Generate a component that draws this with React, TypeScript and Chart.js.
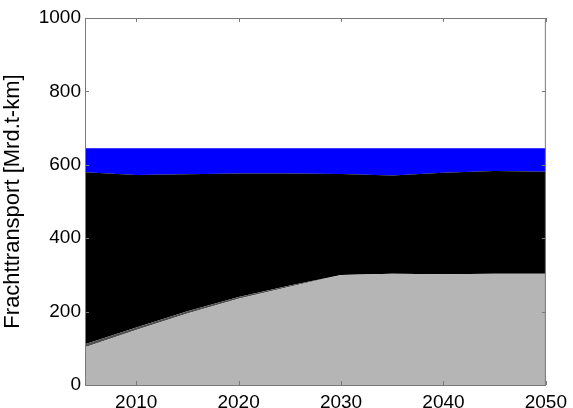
import React, { useEffect, useRef } from "react";
import { Chart, registerables } from "chart.js";

Chart.register(...registerables);

// Years of the scenario (5-year steps)
const years = [2005, 2010, 2015, 2020, 2025, 2030, 2035, 2040, 2045, 2050];
// Layer thicknesses in Mrd. t-km, stacked bottom to top
const railFreight = [103, 150, 195, 235, 268, 300, 303, 302, 303, 303];
const inlandWaterway = [8, 7, 6, 5, 3, 0, 0, 0, 0, 0];
const roadFreight = [469, 415, 373, 336, 305, 275, 268, 276, 280, 278];
const airFreight = [65, 73, 71, 69, 69, 70, 74, 67, 62, 64];
const yTicks = [0, 200, 400, 600, 800, 1000];
const xTicks = [2010, 2020, 2030, 2040, 2050];

const FONT = "'Liberation Sans', Arial, sans-serif";

const frame = {
  id: "frame",
  afterDatasetsDraw(chart: any) {
    const { ctx, chartArea: a, scales } = chart;
    ctx.save();
    ctx.strokeStyle = "#7a7a7a";
    ctx.lineWidth = 1;
    ctx.strokeRect(a.left + 0.5, a.top + 0.5, a.right - a.left - 1, a.bottom - a.top);
    ctx.beginPath();
    for (const v of xTicks) {
      const x = Math.round(scales.x.getPixelForValue(v)) + 0.5;
      ctx.moveTo(x, a.top);
      ctx.lineTo(x, a.top + 4);
      ctx.moveTo(x, a.bottom);
      ctx.lineTo(x, a.bottom - 4);
    }
    for (const v of yTicks) {
      const y = Math.round(scales.y.getPixelForValue(v)) + 0.5;
      ctx.moveTo(a.left, y);
      ctx.lineTo(a.left + 4, y);
      ctx.moveTo(a.right, y);
      ctx.lineTo(a.right - 4, y);
    }
    ctx.stroke();
    ctx.restore();
  },
};

export default function App() {
  const ref = useRef<HTMLCanvasElement>(null);

  useEffect(() => {
    if (!ref.current) return;
    const layer = (label: string, data: number[], color: string, fill: any) => ({
      label,
      data: years.map((x, i) => ({ x, y: data[i] })),
      backgroundColor: color,
      borderColor: color,
      borderWidth: 0,
      pointRadius: 0,
      tension: 0,
      fill,
    });
    const chart = new Chart(ref.current, {
      type: "line",
      data: {
        datasets: [
          layer("Schiene", railFreight, "#b5b5b5", "origin"),
          layer("Binnenschiff", inlandWaterway, "#505050", "-1"),
          layer("Straße", roadFreight, "#000000", "-1"),
          layer("Luft", airFreight, "#0000ff", "-1"),
        ],
      },
      options: {
        animation: false,
        responsive: false,
        maintainAspectRatio: false,
        layout: { padding: { left: 0, top: 18, right: 24, bottom: 0 } },
        plugins: { legend: { display: false }, tooltip: { enabled: false } },
        scales: {
          x: {
            type: "linear",
            min: 2005,
            max: 2050,
            grid: { display: false, drawTicks: false },
            border: { display: false },
            afterBuildTicks: (s: any) => {
              s.ticks = xTicks.map((value) => ({ value }));
            },
            afterFit: (s: any) => {
              s.height = 23;
            },
            ticks: {
              padding: 6,
              color: "#000",
              maxRotation: 0,
              font: { family: FONT, size: 19 },
              callback: (v: any) => String(v),
            },
          },
          y: {
            stacked: true,
            min: 0,
            max: 1000,
            grid: { display: false, drawTicks: false },
            border: { display: false },
            afterBuildTicks: (s: any) => {
              s.ticks = yTicks.map((value) => ({ value }));
            },
            afterFit: (s: any) => {
              s.width = 85;
            },
            ticks: {
              padding: 4,
              color: "#000",
              font: { family: FONT, size: 19 },
              callback: (v: any) => String(v),
            },
            title: {
              display: true,
              text: "Frachttransport [Mrd.t-km]",
              color: "#000",
              padding: { top: 0, bottom: 0 },
              font: { family: FONT, size: 22 },
            },
          },
        },
      },
      plugins: [frame],
    });
    return () => chart.destroy();
  }, []);

  return (
    <div style={{ position: "absolute", left: 0, top: 0, width: 573, height: 408, background: "#fff" }}>
      <canvas ref={ref} width={573} height={408} style={{ display: "block" }} />
    </div>
  );
}
